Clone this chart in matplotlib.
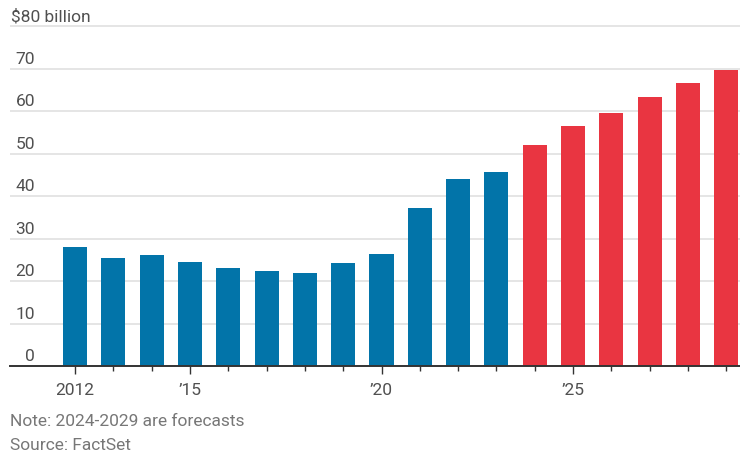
import numpy as np
import matplotlib
matplotlib.use("Agg")
import matplotlib.pyplot as plt
import matplotlib.transforms as mtransforms

# Annual values in billions of dollars; 2024 onward are forecasts
years = list(range(2012, 2030))
values = [28.1, 25.5, 26.1, 24.5, 23.0, 22.4, 21.9, 24.2, 26.4, 37.1,
          44.0, 45.6, 51.9, 56.4, 59.5, 63.2, 66.5, 69.6]
first_forecast = 2024

y_ticks = [0, 10, 20, 30, 40, 50, 60, 70, 80]
x_major = [2012, 2015, 2020, 2025]
x_major_labels = ["2012", "\u201915", "\u201920", "\u201925"]

BLUE = "#0274a9"
RED = "#e93541"
GRID = "#e3e3e3"
TEXT = "#505050"

plt.rcParams["font.family"] = ["Liberation Sans Narrow", "Roboto", "DejaVu Sans"]

fig = plt.figure(figsize=(7.4, 4.54), dpi=100)
ax = fig.add_axes([10 / 740, 1 - 366 / 454, 730 / 740, (366 - 21.75) / 454])

colors = [RED if y >= first_forecast else BLUE for y in years]
ax.bar(years, values, width=0.63, color=colors, zorder=3)

ax.set_xlim(2010.30, 2029.36)
ax.set_ylim(0, 81)

# horizontal grid with labels sitting just above each line
for v in y_ticks:
    if v > 0:
        ax.axhline(v, color=GRID, lw=1.3, zorder=1)
trans = mtransforms.blended_transform_factory(ax.transAxes, ax.transData)
for v in y_ticks:
    if v == 80:
        ax.text(0.001, v + 0.4, "$80 billion", transform=trans, ha="left",
                va="bottom", fontsize=12.5, color=TEXT)
    else:
        ax.text(0.0342, v + 0.4, str(v), transform=trans, ha="right",
                va="bottom", fontsize=12.5, color=TEXT)

for side in ["top", "right", "left"]:
    ax.spines[side].set_visible(False)
ax.spines["bottom"].set_color("#333333")
ax.spines["bottom"].set_linewidth(1.4)
ax.spines["bottom"].set_zorder(4)

ax.set_yticks([])
ax.set_xticks(x_major)
ax.set_xticklabels(x_major_labels, fontsize=12.5, color=TEXT)
ax.set_xticks(years, minor=True)
ax.tick_params(axis="x", which="major", length=6, width=1, color="#333333", pad=6)
ax.tick_params(axis="x", which="minor", length=3.5, width=1, color="#333333")

fig.text(10 / 740, 1 - 421 / 454, "Note: 2024-2029 are forecasts", ha="left",
         va="center", fontsize=12.5, color="#777777")
fig.text(10 / 740, 1 - 445 / 454, "Source: FactSet", ha="left",
         va="center", fontsize=12.5, color="#777777")

fig.savefig("out.png", dpi=100)
